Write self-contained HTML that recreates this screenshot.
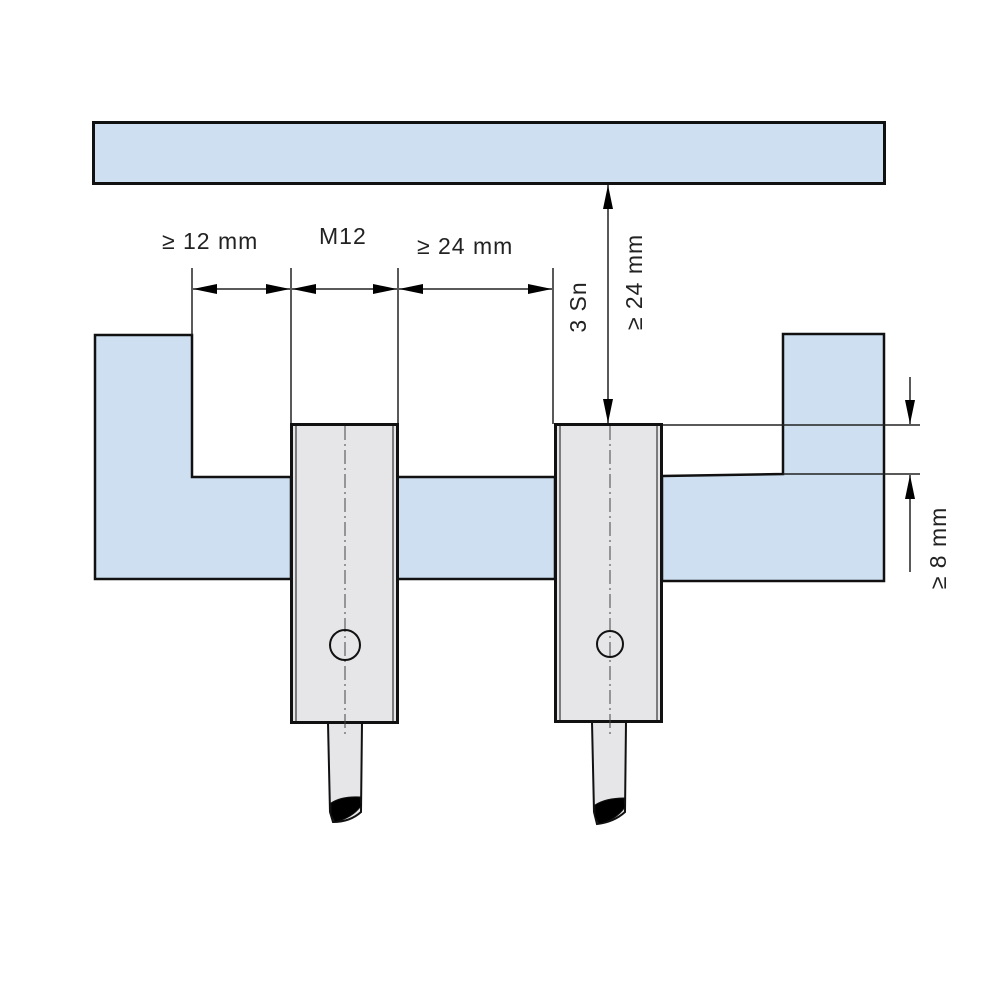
<!DOCTYPE html>
<html><head><meta charset="utf-8"><style>
html,body{margin:0;padding:0;background:#fff}
svg{display:block}
text{font-family:"Liberation Sans",sans-serif;font-size:23px;fill:#222;letter-spacing:1px}
</style></head><body>
<svg width="1000" height="1000" viewBox="0 0 1000 1000" xmlns="http://www.w3.org/2000/svg">
<defs>
<marker id="b" viewBox="0 0 24 10" refX="24" refY="5" markerWidth="24" markerHeight="10" markerUnits="userSpaceOnUse" orient="auto-start-reverse"><path d="M0,0 L24,5 L0,10 z" fill="#000"/></marker>
</defs>
<rect x="93.5" y="122.5" width="791" height="61" fill="#cddff0" stroke="#111" stroke-width="3"/>
<path d="M95,335 L192,335 L192,477 L291,477 L291,579 L95,579 Z" fill="#cddff0" stroke="#111" stroke-width="2.5"/>
<path d="M398,477 L555,477 L555,579 L398,579" fill="#cddff0" stroke="#111" stroke-width="2.5"/>
<path d="M662,476 L783,474 L783,334 L884,334 L884,581 L662,581 Z" fill="#cddff0" stroke="#111" stroke-width="2.5"/>
<g stroke="#222" stroke-width="1.5" fill="none">
<line x1="192" y1="268" x2="192" y2="335"/>
<line x1="291" y1="268" x2="291" y2="424"/>
<line x1="398" y1="268" x2="398" y2="424"/>
<line x1="553" y1="268" x2="553" y2="424"/>
<line x1="193" y1="289" x2="290" y2="289" marker-start="url(#b)" marker-end="url(#b)"/>
<line x1="292" y1="289" x2="397" y2="289" marker-start="url(#b)" marker-end="url(#b)"/>
<line x1="399" y1="289" x2="552" y2="289" marker-start="url(#b)" marker-end="url(#b)"/>
<line x1="608" y1="185" x2="608" y2="423" marker-start="url(#b)" marker-end="url(#b)"/>
<line x1="662" y1="425" x2="920" y2="425"/>
<line x1="783" y1="474" x2="920" y2="474"/>
<line x1="910" y1="377" x2="910" y2="424" marker-end="url(#b)"/>
<line x1="910" y1="572" x2="910" y2="475" marker-end="url(#b)"/>
</g>
<g stroke="#111">
<path d="M328,723 L362,723 L361,812 Q350,822 333,822 L330,812 Z" fill="#e6e6e8" stroke-width="2"/>
<path d="M331,803 Q342,796 360,797 L361,806 Q352,818 335,822 L331,815 Z" fill="#000"/>
<rect x="291.5" y="424.5" width="106" height="298" fill="#e6e6e8" stroke-width="3"/>
<line x1="296" y1="426" x2="296" y2="721" stroke-width="1"/>
<line x1="393" y1="426" x2="393" y2="721" stroke-width="1"/>
<line x1="345" y1="426" x2="345" y2="738" stroke-width="1" stroke-dasharray="14,4,2,4" stroke="#444"/>
<circle cx="345" cy="645" r="15" fill="none" stroke-width="2"/>
<path d="M592,722 L626,722 L625,812 Q614,822 597,824 L594,812 Z" fill="#e6e6e8" stroke-width="2"/>
<path d="M595,805 Q606,798 624,798 L625,807 Q616,820 599,824 L595,817 Z" fill="#000"/>
<rect x="555.5" y="424.5" width="106" height="297" fill="#e6e6e8" stroke-width="3"/>
<line x1="560" y1="426" x2="560" y2="720" stroke-width="1"/>
<line x1="657" y1="426" x2="657" y2="720" stroke-width="1"/>
<line x1="610" y1="426" x2="610" y2="738" stroke-width="1" stroke-dasharray="14,4,2,4" stroke="#444"/>
<circle cx="610" cy="644" r="13" fill="none" stroke-width="2"/>
</g>
<text x="162" y="249">≥ 12 mm</text>
<text x="319" y="244">M12</text>
<text x="417" y="254">≥ 24 mm</text>
<text transform="translate(586,307) rotate(-90)" text-anchor="middle">3 Sn</text>
<text transform="translate(642,282) rotate(-90)" text-anchor="middle">≥ 24 mm</text>
<text transform="translate(946,548) rotate(-90)" text-anchor="middle">≥ 8 mm</text>
</svg>
</body></html>
